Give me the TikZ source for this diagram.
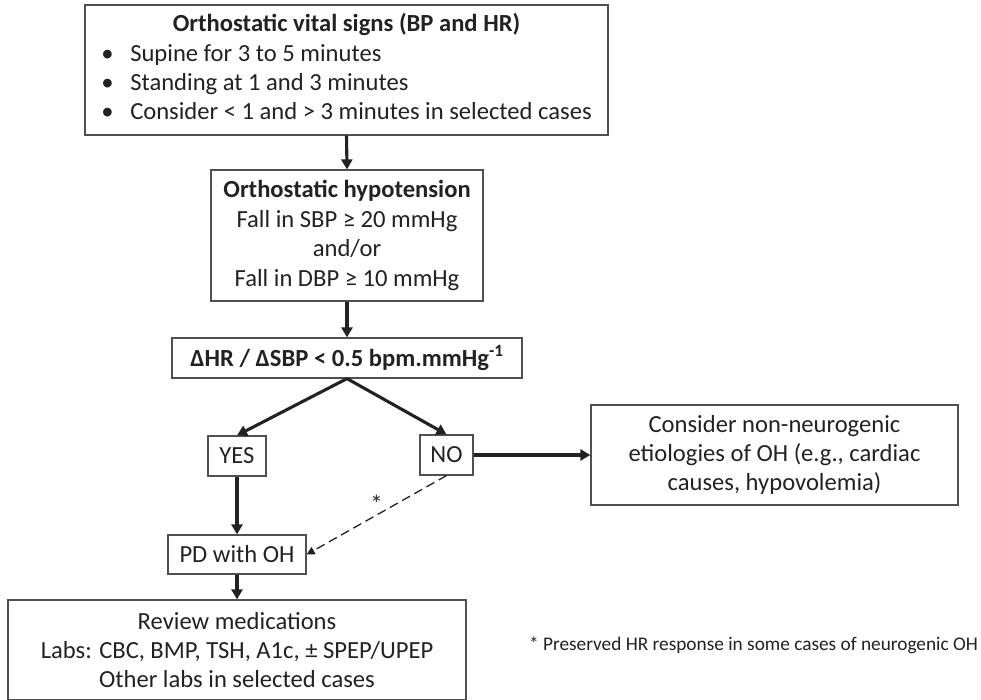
\documentclass[tikz,border=0pt]{standalone}
\usepackage{fontspec}
\setmainfont{Carlito}
\usetikzlibrary{arrows.meta}
\definecolor{boxgray}{HTML}{505050}
\definecolor{ink}{HTML}{222222}
\begin{document}
\begin{tikzpicture}[x=1pt,y=-1pt,>={Triangle[length=10pt,width=11pt]},
    box/.style={draw=boxgray,line width=1.2pt,inner sep=0pt,align=center,text=ink,
      font=\fontsize{24.6}{29.4}\selectfont},
    flow/.style={->,line width=3.1pt,draw=ink},
    maybe/.style={->,line width=1.3pt,draw=ink,dash pattern=on 9pt off 5pt,
      >={Triangle[length=8pt,width=8pt]}}]
  \useasboundingbox (0,0) rectangle (981,700);
  \node[box,minimum width=523pt,minimum height=130pt] (signs) at (346.5,70)
    {\raisebox{-3pt}{\begin{tabular}{@{}p{29pt}@{}l@{}}
       \multicolumn{2}{@{}c@{}}{\textbf{Orthostatic vital signs (BP and HR)}}\\
       \textbullet & Supine for 3 to 5 minutes\\
       \textbullet & Standing at 1 and 3 minutes\\
       \textbullet & Consider < 1 and > 3 minutes in selected cases
     \end{tabular}}};
  \node[box,minimum width=272pt,minimum height=131pt] (oh) at (347,235.5)
    {\textbf{Orthostatic hypotension}\\Fall in SBP ≥ 20 mmHg\\and/or\\Fall in DBP ≥ 10 mmHg};
  \node[box,minimum width=350pt,minimum height=40pt] (ratio) at (347,358)
    {\textbf{ΔHR / ΔSBP < 0.5 bpm.mmHg\textsuperscript{-1}}};
  \node[box,minimum width=58pt,minimum height=40pt] (yes) at (237,456) {YES};
  \node[box,minimum width=53pt,minimum height=40pt] (no) at (446.5,455) {NO};
  \node[box,minimum width=367pt,minimum height=100pt] (nonneuro) at (774.5,455)
    {Consider non-neurogenic\\etiologies of OH (e.g., cardiac\\causes, hypovolemia)};
  \node[box,minimum width=138pt,minimum height=39pt] (pd) at (237,554.5) {PD with OH};
  \node[box,minimum width=458pt,minimum height=100pt] (review) at (237,650)
    {Review medications\\Labs: CBC, BMP, TSH, A1c, ± SPEP/UPEP\\Other labs in selected cases};
  \node[text=ink,inner sep=0pt,font=\fontsize{19.3}{23}\selectfont] (note) at (753.5,645)
    {* Preserved HR response in some cases of neurogenic OH};
  % connectors
  \draw[flow] (signs.south) -- (oh.north);
  \draw[flow] (oh.south) -- (ratio.north);
  \draw[flow] (ratio.south) -- (yes.north);
  \draw[flow] (ratio.south) -- (no.north);
  \draw[flow] (no.east) -- (nonneuro.west |- no.east);
  \draw[flow] (yes.south) -- (pd.north);
  \draw[maybe] (no.south) -- node[midway,above,inner sep=2pt,text=ink,
    font=\fontsize{24.6}{29}\selectfont] {*} (pd.east);
  \draw[flow] (pd.south) -- (review.north);
\end{tikzpicture}
\end{document}
